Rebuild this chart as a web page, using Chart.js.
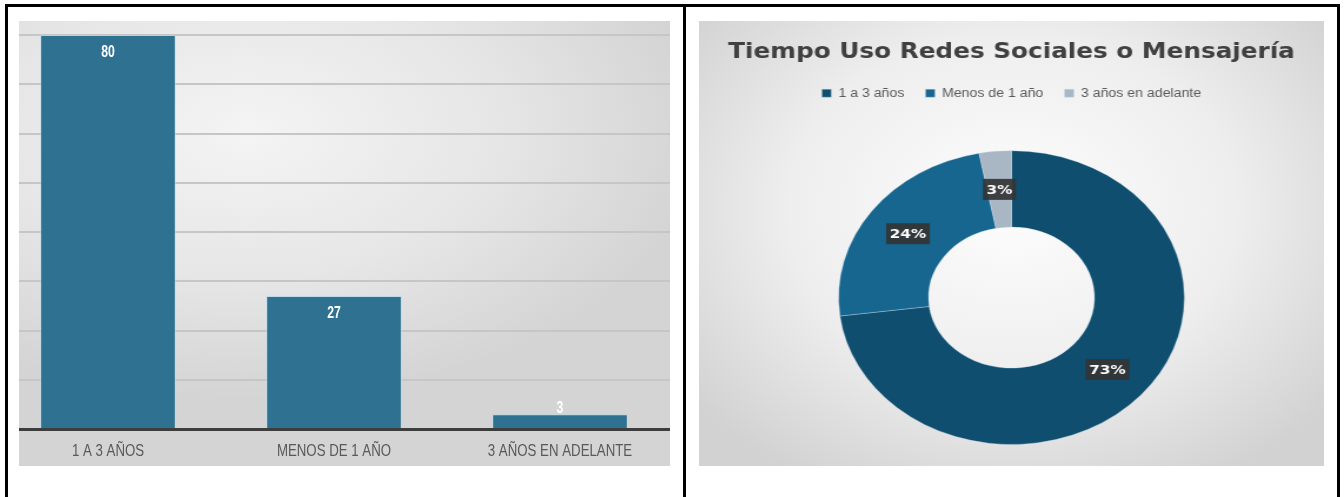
<!doctype html>
<html lang="es">
<head>
  <meta charset="utf-8">
  <title>Tiempo Uso Redes Sociales o Mensajería</title>
  <style>
    * { margin: 0; padding: 0; }
    body { width: 1344px; height: 497px; background: #fff; position: relative; overflow: hidden; font-family: "Liberation Sans", sans-serif; }
    .line { position: absolute; background: #000; }
    .panel { position: absolute; top: 21px; height: 445px; overflow: hidden; }
    #barPanel {
      left: 19px; width: 651px;
      background: radial-gradient(ellipse 70% 60% at 35% 25%, #f4f4f4 0%, #e6e6e6 55%, #d4d4d4 100%);
    }
    #barBox { position: absolute; left: -24px; top: 0; width: 678px; height: 445px; }
    #pieWrap {
      left: 699px; width: 625px;
      background: radial-gradient(ellipse 65% 70% at 50% 42%, #fdfdfd 0%, #eeeeee 55%, #d2d2d2 100%);
    }
    #pieBox { position: absolute; left: 0; top: 0; width: 531px; height: 445px; transform: scaleX(1.177); transform-origin: 0 0; }
  </style>
</head>
<body>
  <div class="line" style="left:5px; top:4px; width:1335px; height:3px;"></div>
  <div class="line" style="left:5px; top:4px; width:3px; height:493px;"></div>
  <div class="line" style="left:683px; top:4px; width:3px; height:493px;"></div>
  <div class="line" style="left:1337px; top:4px; width:3px; height:493px;"></div>

  <div class="panel" id="barPanel">
    <div id="barBox"><canvas id="barChart"></canvas></div>
  </div>
  <div class="panel" id="pieWrap">
    <div id="pieBox"><canvas id="pieChart"></canvas></div>
  </div>

  <script src="https://cdn.jsdelivr.net/npm/chart.js"></script>
  <script>
    // data
    const barLabels = ['1 A 3 AÑOS', 'MENOS DE 1 AÑO', '3 AÑOS EN ADELANTE'];
    const pieLabels = ['1 a 3 años', 'Menos de 1 año', '3 años en adelante'];
    const counts = [80, 27, 3];
    const percents = [73, 24, 3];
    const yTicks = [0, 10, 20, 30, 40, 50, 60, 70, 80];
    const pieTitle = 'Tiempo Uso Redes Sociales o Mensajería';

    // narrow text: no condensed font installed, so squeeze the regular one
    function narrowText(ctx, txt, x, y, sx) {
      ctx.save();
      ctx.translate(x, y);
      ctx.scale(sx, 1);
      ctx.fillText(txt, 0, 0);
      ctx.restore();
    }

    // category names + value labels on the bars
    const barText = {
      id: 'barText',
      afterDatasetsDraw(chart) {
        const ctx = chart.ctx;
        const meta = chart.getDatasetMeta(0);
        const xs = chart.scales.x;
        ctx.save();
        ctx.textAlign = 'center';
        ctx.textBaseline = 'middle';
        ctx.fillStyle = '#ffffff';
        ctx.font = 'bold 17px "Liberation Sans", sans-serif';
        meta.data.forEach((bar, i) => {
          const h = bar.base - bar.y;
          const y = h > 30 ? bar.y + 17 : bar.y - 6;
          narrowText(ctx, String(counts[i]), bar.x, y, 0.72);
        });
        ctx.fillStyle = '#595959';
        ctx.font = '17px "Liberation Sans", sans-serif';
        barLabels.forEach((lab, i) => {
          narrowText(ctx, lab, xs.getPixelForTick(i), xs.bottom + 22, 0.78);
        });
        ctx.restore();
      }
    };

    new Chart(document.getElementById('barChart'), {
      type: 'bar',
      data: {
        labels: barLabels,
        datasets: [{
          data: counts,
          backgroundColor: '#2f7191',
          borderColor: 'rgba(175, 215, 235, 0.7)',
          borderWidth: 1,
          borderSkipped: 'bottom',
          barPercentage: 0.6,
          categoryPercentage: 1
        }]
      },
      options: {
        responsive: true,
        maintainAspectRatio: false,
        animation: false,
        layout: { padding: { top: 14, bottom: 37, left: 0, right: 0 } },
        plugins: { legend: { display: false }, tooltip: { enabled: false } },
        scales: {
          x: {
            grid: { drawOnChartArea: false, drawTicks: false },
            border: { display: true, color: '#3d3d3d', width: 3 },
            ticks: { display: false }
          },
          y: {
            min: 0,
            max: 80,
            afterBuildTicks(axis) { axis.ticks = yTicks.map(v => ({ value: v })); },
            grid: { color: '#c6c6c6', lineWidth: 2, drawTicks: false },
            border: { display: false },
            ticks: { display: false }
          }
        }
      },
      plugins: [barText]
    });

    // percentage boxes on the ring
    const pieText = {
      id: 'pieText',
      afterDatasetsDraw(chart) {
        const ctx = chart.ctx;
        const meta = chart.getDatasetMeta(0);
        ctx.save();
        ctx.font = 'bold 13px "DejaVu Sans", sans-serif';
        ctx.textAlign = 'center';
        ctx.textBaseline = 'middle';
        meta.data.forEach((arc, i) => {
          const p = arc.tooltipPosition();
          const txt = percents[i] + '%';
          const w = ctx.measureText(txt).width + 6;
          ctx.fillStyle = 'rgba(52, 52, 52, 0.92)';
          ctx.fillRect(p.x - w / 2, p.y - 10.5, w, 21);
          ctx.fillStyle = '#ffffff';
          ctx.fillText(txt, p.x, p.y + 1);
        });
        ctx.restore();
      }
    };

    // extra room under the legend
    const legendGap = {
      id: 'legendGap',
      beforeInit(chart) {
        const fit = chart.legend.fit;
        chart.legend.fit = function () {
          fit.bind(chart.legend)();
          this.height += 41;
        };
      }
    };

    new Chart(document.getElementById('pieChart'), {
      type: 'doughnut',
      data: {
        labels: pieLabels,
        datasets: [{
          data: percents,
          backgroundColor: ['#0f4e6f', '#166690', '#a9b7c4'],
          borderColor: 'rgba(200, 220, 235, 0.35)',
          borderWidth: 1
        }]
      },
      options: {
        responsive: true,
        maintainAspectRatio: false,
        animation: false,
        cutout: '48%',
        layout: { padding: { top: 0, bottom: 21 } },
        plugins: {
          tooltip: { enabled: false },
          title: {
            display: true,
            text: pieTitle,
            color: '#404040',
            font: { family: '"DejaVu Sans", sans-serif', size: 21, weight: 'bold' },
            padding: { top: 19, bottom: 4 }
          },
          legend: {
            position: 'top',
            labels: {
              color: '#595959',
              boxWidth: 8,
              boxHeight: 8,
              padding: 18,
              font: { family: '"Liberation Sans", sans-serif', size: 12 }
            }
          }
        }
      },
      plugins: [pieText, legendGap]
    });
  </script>
</body>
</html>
